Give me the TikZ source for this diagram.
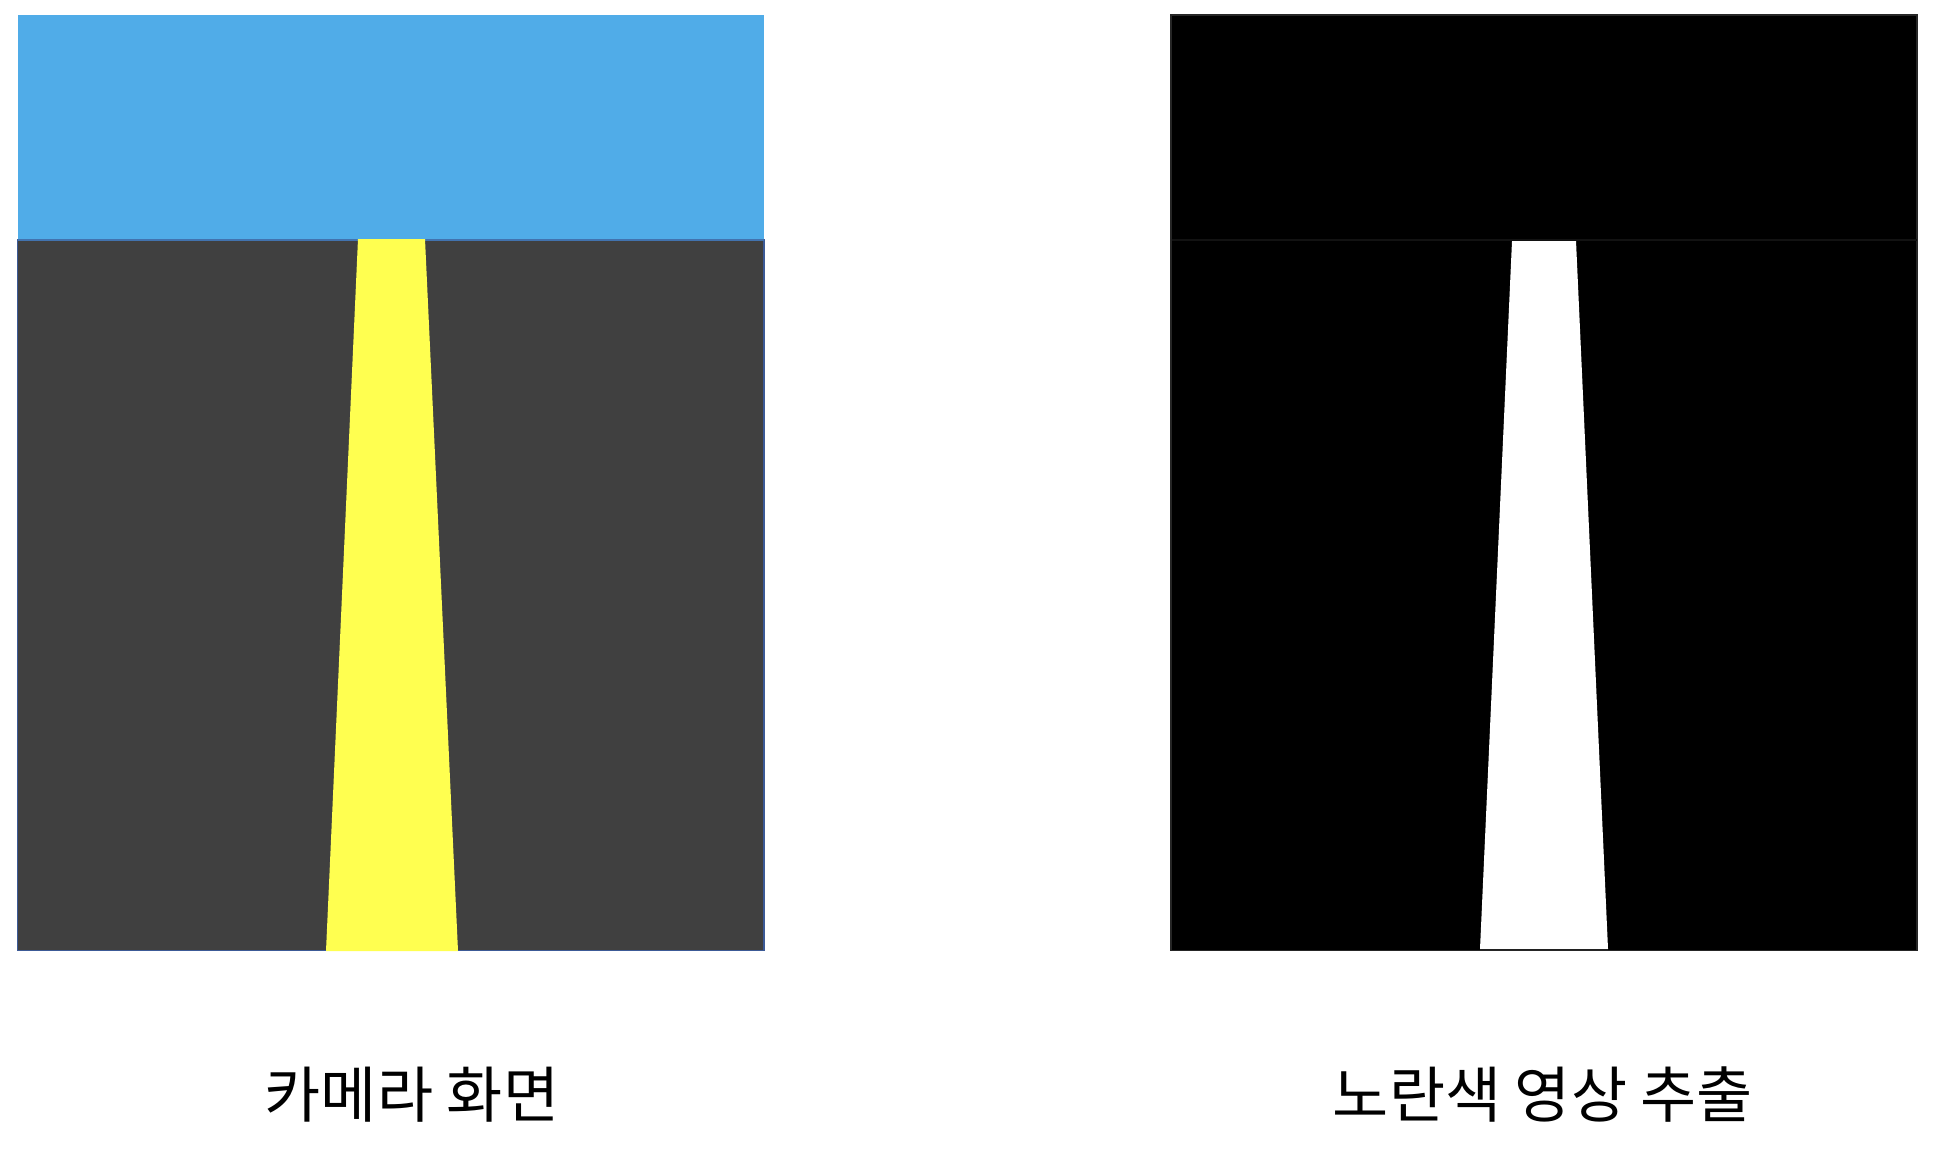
\documentclass[tikz,border=0pt]{standalone}
\usepackage{fontspec}
\setmainfont{Noto Sans CJK KR}
\definecolor{sky}{RGB}{80,172,232}
\definecolor{road}{RGB}{64,64,64}
\definecolor{lane}{RGB}{255,255,80}
\definecolor{edgeblue}{RGB}{60,90,150}
\tikzset{
  caption/.style={font=\fontsize{61}{70}\selectfont, text=black, inner sep=0pt, anchor=base},
}
\begin{document}
\begin{tikzpicture}[x=1pt,y=-1pt]
\useasboundingbox[fill=white] (0,0) rectangle (1958,1148);
% left panel: camera view
\fill[sky] (17.5,15) rectangle (764,240);
\filldraw[fill=road, draw=edgeblue, line width=1.5pt] (17.5,240) rectangle (764,950.5);
\draw[draw=edgeblue!70!sky, line width=1.2pt] (17.5,240) -- (764,240);
\fill[lane] (358,239) -- (425,239) -- (458,951) -- (326,951) -- cycle;
% right panel: extracted yellow
\filldraw[fill=black, draw=black!85, line width=1.2pt] (1171,15) rectangle (1917,950.5);
\draw[draw=black!93, line width=2pt] (1171.5,240) -- (1916.5,240);
\fill[white] (1512,241) -- (1576,241) -- (1608,949) -- (1480,949) -- cycle;
% captions
\node[caption] (camcap) at (412,1117) {카메라 화면};
\node[caption] (yelcap) at (1543,1117) {노란색 영상 추출};
\end{tikzpicture}
\end{document}
